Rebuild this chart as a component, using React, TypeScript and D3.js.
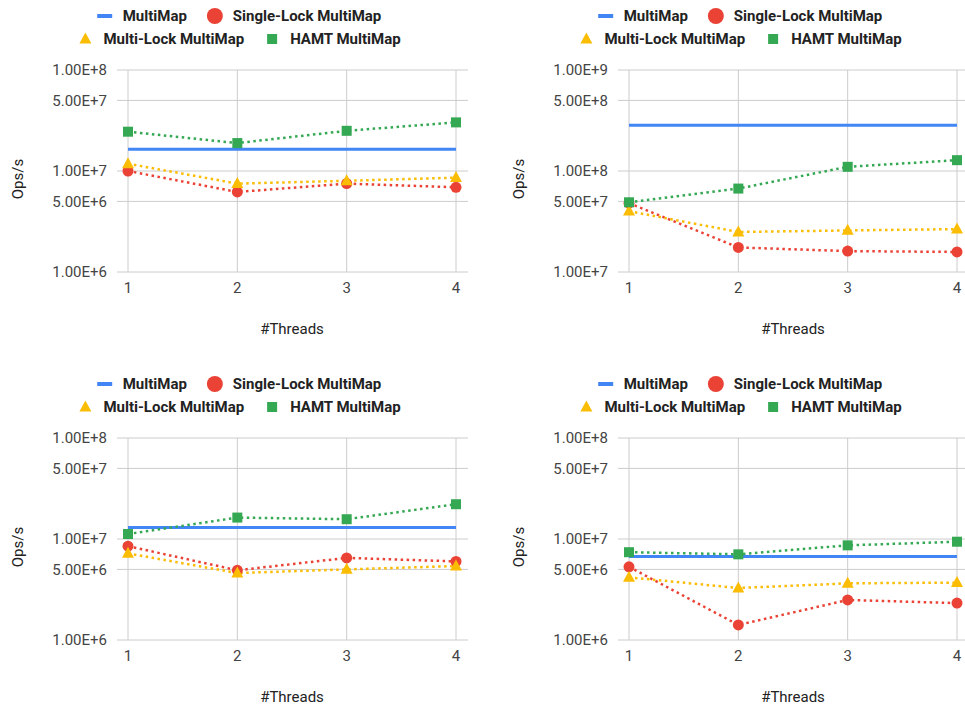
import { useEffect, useRef } from "react";
import * as d3 from "d3";

// thread counts on the x axis
const threads = [1, 2, 3, 4];

const seriesNames = ["MultiMap", "Single-Lock MultiMap", "Multi-Lock MultiMap", "HAMT MultiMap"];
const seriesColors = ["#4285f4", "#ea4335", "#fbbc04", "#34a853"];
const seriesShapes = ["line", "circle", "triangle", "square"];

// panel 1 (top left)
const p1MultiMap = [1.64e7, 1.64e7, 1.64e7, 1.64e7];
const p1SingleLock = [1.0e7, 6.2e6, 7.5e6, 6.9e6];
const p1MultiLock = [1.18e7, 7.5e6, 8.0e6, 8.6e6];
const p1Hamt = [2.45e7, 1.89e7, 2.5e7, 3.03e7];

// panel 2 (top right)
const p2MultiMap = [2.83e8, 2.83e8, 2.83e8, 2.83e8];
const p2SingleLock = [4.8e7, 1.75e7, 1.61e7, 1.58e7];
const p2MultiLock = [4.0e7, 2.49e7, 2.58e7, 2.66e7];
const p2Hamt = [4.9e7, 6.7e7, 1.1e8, 1.28e8];

// panel 3 (bottom left)
const p3MultiMap = [1.3e7, 1.3e7, 1.3e7, 1.3e7];
const p3SingleLock = [8.5e6, 4.9e6, 6.5e6, 6.0e6];
const p3MultiLock = [7.2e6, 4.6e6, 5.0e6, 5.4e6];
const p3Hamt = [1.12e7, 1.63e7, 1.57e7, 2.21e7];

// panel 4 (bottom right)
const p4MultiMap = [6.7e6, 6.7e6, 6.7e6, 6.7e6];
const p4SingleLock = [5.3e6, 1.41e6, 2.49e6, 2.32e6];
const p4MultiLock = [4.17e6, 3.27e6, 3.64e6, 3.7e6];
const p4Hamt = [7.4e6, 7.05e6, 8.65e6, 9.4e6];

// y tick values per panel
const ticksLow = [1e6, 5e6, 1e7, 5e7, 1e8];
const ticksHigh = [1e7, 5e7, 1e8, 5e8, 1e9];

const panels = [
    { col: 0, row: 0, ticks: ticksLow, series: [p1MultiMap, p1SingleLock, p1MultiLock, p1Hamt] },
    { col: 1, row: 0, ticks: ticksHigh, series: [p2MultiMap, p2SingleLock, p2MultiLock, p2Hamt] },
    { col: 0, row: 1, ticks: ticksLow, series: [p3MultiMap, p3SingleLock, p3MultiLock, p3Hamt] },
    { col: 1, row: 1, ticks: ticksLow, series: [p4MultiMap, p4SingleLock, p4MultiLock, p4Hamt] },
];

const FONT = "Roboto, Arial, sans-serif";

function fmtExp(v: number) {
    const e = Math.floor(Math.log10(v) + 1e-9);
    const m = v / Math.pow(10, e);
    return `${m.toFixed(2)}E+${e}`;
}

function drawSymbol(g: any, shape: string, cx: number, cy: number, color: string, legend: boolean) {
    if (shape === "line") {
        g.append("rect").attr("x", cx - 7.5).attr("y", cy - 2).attr("width", 15).attr("height", 4)
            .attr("fill", color);
    } else if (shape === "circle") {
        g.append("circle").attr("cx", cx).attr("cy", cy).attr("r", legend ? 8 : 5.5).attr("fill", color);
    } else if (shape === "triangle") {
        const w = legend ? 12 : 12, h = legend ? 11 : 11;
        g.append("path")
            .attr("d", `M${cx},${cy - h * 0.6}L${cx + w / 2},${cy + h * 0.4}L${cx - w / 2},${cy + h * 0.4}Z`)
            .attr("fill", color);
    } else {
        const s = 10;
        g.append("rect").attr("x", cx - s / 2).attr("y", cy - s / 2).attr("width", s).attr("height", s)
            .attr("fill", color);
    }
}

export default function App() {
    const ref = useRef<SVGSVGElement>(null);

    useEffect(() => {
        const svg = d3.select(ref.current);
        svg.selectAll("*").remove();

        panels.forEach((p) => {
            const g = svg.append("g")
                .attr("transform", `translate(${p.col * 501}, ${p.row * 368})`)
                .style("font-family", FONT);

            const x = d3.scaleLinear().domain([1, 4]).range([128, 456]);
            const y = d3.scaleLog().domain([p.ticks[0], p.ticks[p.ticks.length - 1]]).range([272, 70]);
            const gridLeft = 117, gridRight = 468;

            // Gridlines
            g.append("g").selectAll("line.h").data(p.ticks).join("line")
                .attr("x1", gridLeft).attr("x2", gridRight)
                .attr("y1", d => y(d)).attr("y2", d => y(d))
                .attr("stroke", "#cccccc").attr("stroke-width", 1);
            g.append("g").selectAll("line.v").data(threads).join("line")
                .attr("x1", d => x(d)).attr("x2", d => x(d))
                .attr("y1", y.range()[1]).attr("y2", y.range()[0])
                .attr("stroke", "#cccccc").attr("stroke-width", 1);

            // Y tick labels
            g.append("g").selectAll("text").data(p.ticks).join("text")
                .attr("x", 107).attr("y", d => y(d)).attr("dy", "0.35em")
                .attr("text-anchor", "end").attr("font-size", 15).attr("fill", "#444")
                .text(d => fmtExp(d));

            // X tick labels
            g.append("g").selectAll("text").data(threads).join("text")
                .attr("x", d => x(d)).attr("y", 288).attr("dy", "0.35em")
                .attr("text-anchor", "middle").attr("font-size", 15).attr("fill", "#444")
                .text(d => d);

            // Axis titles
            g.append("text").attr("x", 292).attr("y", 329).attr("dy", "0.35em")
                .attr("text-anchor", "middle").attr("font-size", 15).attr("fill", "#222")
                .text("#Threads");
            g.append("text").attr("transform", "translate(18, 179) rotate(-90)").attr("dy", "0.35em")
                .attr("text-anchor", "middle").attr("font-size", 15).attr("fill", "#222")
                .text("Ops/s");

            // Series
            const line = d3.line<number>().x((d, i) => x(threads[i])).y(d => y(d));
            p.series.forEach((vals, si) => {
                const solid = seriesShapes[si] === "line";
                g.append("path").datum(vals)
                    .attr("fill", "none")
                    .attr("stroke", seriesColors[si])
                    .attr("stroke-width", solid ? 3 : 2.5)
                    .attr("stroke-dasharray", solid ? null : "2.5,3.5")
                    .attr("d", line);
            });
            p.series.forEach((vals, si) => {
                if (seriesShapes[si] === "line") return;
                const mg = g.append("g");
                vals.forEach((v, i) => drawSymbol(mg, seriesShapes[si], x(threads[i]), y(v), seriesColors[si], false));
            });

            // Legend, two centred rows
            const rows = [[0, 1], [2, 3]];
            const rowY = [16, 39];
            const legendCenter = 239;
            rows.forEach((idxs, ri) => {
                const lg = g.append("g");
                let cursor = 0;
                idxs.forEach((si, k) => {
                    if (k > 0) cursor += 20;
                    drawSymbol(lg, seriesShapes[si], cursor + 8, rowY[ri], seriesColors[si], true);
                    cursor += 26;
                    const t = lg.append("text").attr("x", cursor).attr("y", rowY[ri]).attr("dy", "0.35em")
                        .attr("font-size", 15).attr("font-weight", "bold").attr("fill", "#222")
                        .text(seriesNames[si]);
                    cursor += (t.node() as SVGTextElement).getComputedTextLength();
                });
                lg.attr("transform", `translate(${legendCenter - cursor / 2}, 0)`);
            });
        });
    }, []);

    return (
        <svg ref={ref} width={965} height={708}
            style={{ position: "absolute", left: 0, top: 0, background: "#fff" }} />
    );
}
